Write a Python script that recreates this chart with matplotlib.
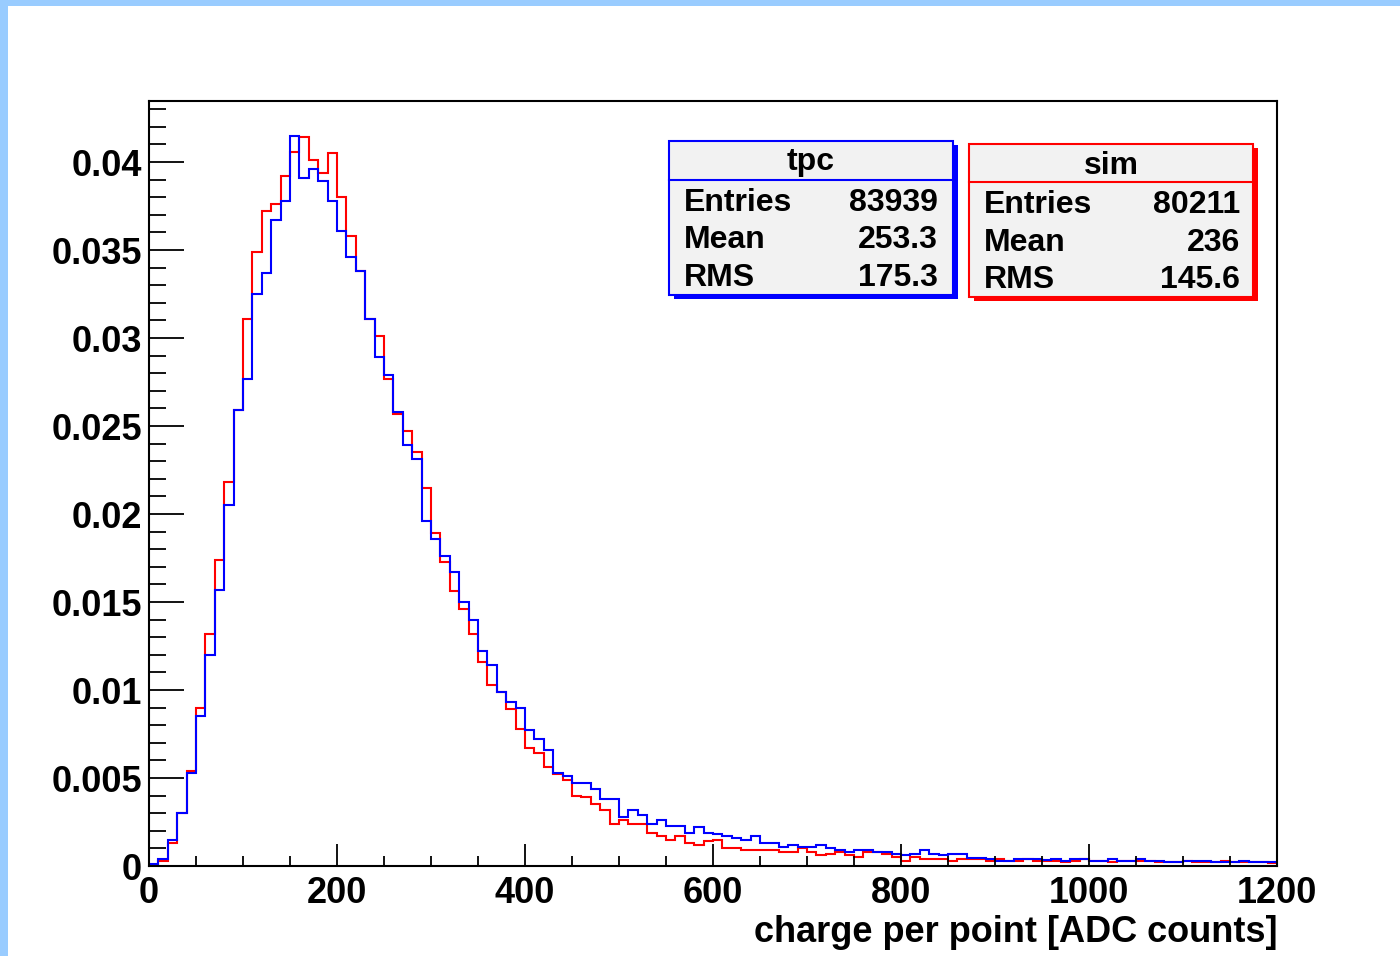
import matplotlib
matplotlib.use("Agg")
import matplotlib.pyplot as plt
import matplotlib.patches as mpatches
import numpy as np

plt.rcParams['font.family'] = ['Liberation Sans', 'DejaVu Sans']
plt.rcParams['font.weight'] = 'bold'

# bin edges: 120 bins of 10 ADC counts
bin_edges = np.arange(0, 1201, 10)

tpc = [0.0001, 0.0004, 0.0015, 0.0030, 0.0053, 0.0085, 0.0120, 0.0157, 0.0205, 0.0259,
       0.0277, 0.0325, 0.0337, 0.0367, 0.0378, 0.0415, 0.0391, 0.0396, 0.0389, 0.0378,
       0.0361, 0.0346, 0.0338, 0.0311, 0.0289, 0.0279, 0.0258, 0.0239, 0.0231, 0.0196,
       0.0186, 0.0176, 0.0167, 0.0150, 0.0140, 0.0122, 0.0114, 0.0099, 0.0093, 0.0090,
       0.0077, 0.0072, 0.0066, 0.0053, 0.0051, 0.0047, 0.0047, 0.0044, 0.0038, 0.0038,
       0.0028, 0.0032, 0.0029, 0.0024, 0.0026, 0.0023, 0.0023, 0.0019, 0.0022, 0.0019,
       0.0018, 0.0017, 0.0016, 0.0015, 0.0017, 0.0013, 0.0013, 0.0011, 0.0012, 0.0011,
       0.0011, 0.0012, 0.0010, 0.0009, 0.0008, 0.0009, 0.0009, 0.0008, 0.0008, 0.0007,
       0.0006, 0.0007, 0.0009, 0.0007, 0.0006, 0.0007, 0.0007, 0.00045, 0.00045, 0.0004,
       0.0003, 0.0003, 0.0004, 0.0004, 0.0004, 0.00035, 0.0004, 0.0003, 0.0004, 0.0004,
       0.0003, 0.0003, 0.0004, 0.0003, 0.0003, 0.0004, 0.0003, 0.0003, 0.00025, 0.00025,
       0.0003, 0.0003, 0.0003, 0.00025, 0.00025, 0.00025, 0.0003, 0.0002, 0.0002, 0.0002]

sim = [0.00005, 0.0003, 0.0013, 0.0030, 0.0054, 0.0090, 0.0132, 0.0174, 0.0218, 0.0259,
       0.0311, 0.0349, 0.0372, 0.0376, 0.0392, 0.0406, 0.0414, 0.0401, 0.0394, 0.0405,
       0.0380, 0.0358, 0.0338, 0.0311, 0.0301, 0.0277, 0.0257, 0.0247, 0.0235, 0.0215,
       0.0189, 0.0173, 0.0156, 0.0146, 0.0132, 0.0116, 0.0103, 0.0099, 0.0089, 0.0078,
       0.0067, 0.0064, 0.0056, 0.0052, 0.0049, 0.0040, 0.0039, 0.0035, 0.0032, 0.0024,
       0.0026, 0.0024, 0.0024, 0.0019, 0.0017, 0.0015, 0.0017, 0.0013, 0.0012, 0.0014,
       0.0015, 0.0010, 0.0010, 0.0009, 0.0009, 0.0009, 0.0009, 0.0008, 0.0008, 0.0010,
       0.0008, 0.0006, 0.0007, 0.0008, 0.0006, 0.0005, 0.0008, 0.0008, 0.0007, 0.0005,
       0.0003, 0.0005, 0.0004, 0.0004, 0.0004, 0.0003, 0.0004, 0.0004, 0.0004, 0.0003,
       0.0004, 0.0003, 0.0003, 0.0004, 0.0003, 0.0003, 0.0003, 0.0002, 0.0003, 0.0004,
       0.0003, 0.0003, 0.0002, 0.0003, 0.0003, 0.0003, 0.0003, 0.0002, 0.0002, 0.0002,
       0.0003, 0.0002, 0.0002, 0.0002, 0.0003, 0.0002, 0.0002, 0.0002, 0.0002, 0.00015]

y_ticks = [0, 0.005, 0.01, 0.015, 0.02, 0.025, 0.03, 0.035, 0.04]
y_tick_labels = ["0", "0.005", "0.01", "0.015", "0.02", "0.025", "0.03", "0.035", "0.04"]
x_ticks = [0, 200, 400, 600, 800, 1000, 1200]
x_tick_labels = ["0", "200", "400", "600", "800", "1000", "1200"]

stat_names = ["Entries", "Mean", "RMS"]
tpc_stats = ["83939", "253.3", "175.3"]
sim_stats = ["80211", "236", "145.6"]

W, H = 1400, 956
fig = plt.figure(figsize=(W / 100, H / 100), dpi=100)


def fx(px):
    return px / W


def fy(py):
    return 1 - py / H


# canvas frame (light blue strips on left and top)
fig.add_artist(mpatches.Rectangle((0, 0), fx(8), 1, transform=fig.transFigure,
                                  color='#99ccff', lw=0))
fig.add_artist(mpatches.Rectangle((0, fy(6)), 1, 6 / H, transform=fig.transFigure,
                                  color='#99ccff', lw=0))

ax = fig.add_axes([fx(149), fy(866), fx(1277) - fx(149), fy(101) - fy(866)])

ax.stairs(sim, bin_edges, color='red', lw=1.5, baseline=None)
ax.stairs(tpc, bin_edges, color='blue', lw=1.5, baseline=None)

ax.set_xlim(0, 1200)
ax.set_ylim(0, 0.04347)

ax.set_yticks(y_ticks)
ax.set_yticklabels(y_tick_labels)
ax.set_yticks(np.arange(0, 0.0435, 0.001), minor=True)
ax.set_xticks(x_ticks)
ax.set_xticklabels(x_tick_labels)
ax.set_xticks(np.arange(0, 1201, 50), minor=True)

ax.tick_params(axis='y', which='major', direction='in', length=25, width=1.3,
               labelsize=26, pad=5, right=False)
ax.tick_params(axis='y', which='minor', direction='in', length=12.5, width=1.3, right=False)
ax.tick_params(axis='x', which='major', direction='in', length=16, width=1.3,
               labelsize=26, pad=7, top=False)
ax.tick_params(axis='x', which='minor', direction='in', length=7.5, width=1.3, top=False)
for lab in ax.get_xticklabels() + ax.get_yticklabels():
    lab.set_fontweight('bold')
for s in ax.spines.values():
    s.set_linewidth(1.5)

ax.set_xlabel("charge per point [ADC counts]", fontsize=26, fontweight='bold',
              loc='right', labelpad=3)


def stat_box(x0, y0, x1, y1, ydiv, color, title, values, ytitle, yrows, xl, xr):
    # shadow
    fig.add_artist(mpatches.Rectangle((fx(x0 + 5), fy(y1 + 4)), fx(x1) - fx(x0),
                                      fy(y0) - fy(y1), transform=fig.transFigure,
                                      facecolor=color, edgecolor='none'))
    fig.add_artist(mpatches.Rectangle((fx(x0), fy(y1)), fx(x1) - fx(x0),
                                      fy(y0) - fy(y1), transform=fig.transFigure,
                                      facecolor='#f2f2f2', edgecolor=color, lw=1.5))
    fig.add_artist(plt.Line2D([fx(x0), fx(x1)], [fy(ydiv), fy(ydiv)],
                              transform=fig.transFigure, color=color, lw=1.5))
    fig.text(fx((x0 + x1) / 2), fy(ytitle), title, ha='center', va='center',
             fontsize=23, fontweight='bold')
    for name, val, yr in zip(stat_names, values, yrows):
        fig.text(fx(xl), fy(yr), name, ha='left', va='center', fontsize=23,
                 fontweight='bold')
        fig.text(fx(xr), fy(yr), val, ha='right', va='center', fontsize=23,
                 fontweight='bold')


stat_box(669, 141, 953, 295, 180, 'blue', "tpc", tpc_stats, 162,
         [203, 240, 278], 684, 938)
stat_box(969, 144, 1253, 297, 182, 'red', "sim", sim_stats, 166,
         [205, 243, 280], 984, 1240)

fig.savefig("out.png", dpi=100)
